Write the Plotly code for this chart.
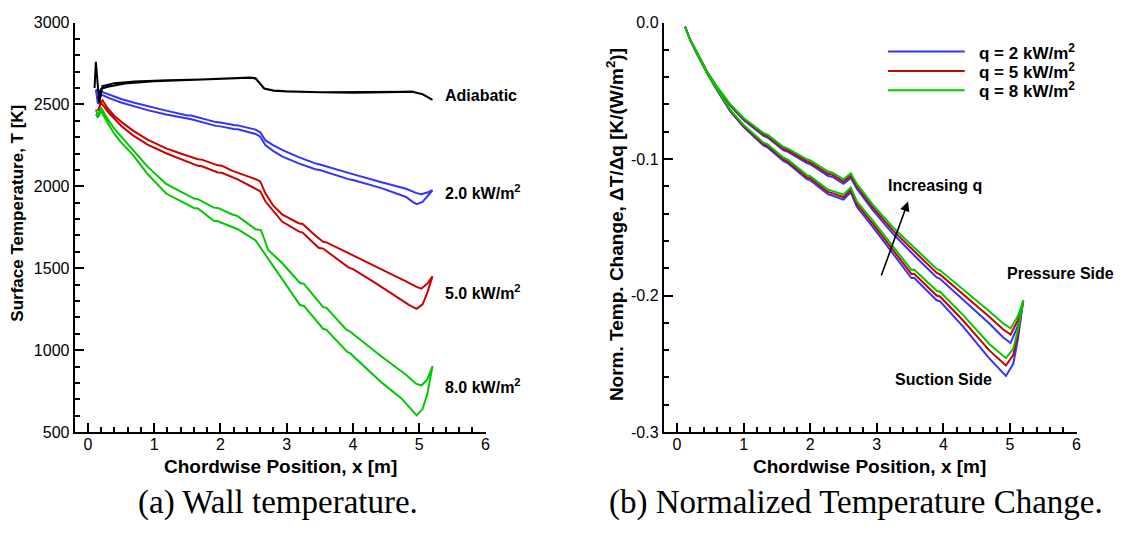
import plotly.graph_objects as go

# ---------------- data : panel (a) wall temperature ----------------
# Adiabatic
adi_low_x = [0.15, 0.2, 0.3, 0.45, 0.6, 1.0, 1.2, 1.7, 2.2, 2.45, 2.53, 2.6, 2.66, 2.8, 3.0, 3.5, 4.0, 4.5, 4.9, 5.05, 5.2]
adi_low_T = [2540, 2595, 2608, 2620, 2630, 2642, 2645, 2650, 2658, 2663, 2658, 2622, 2596, 2583, 2579, 2574, 2572, 2575, 2577, 2562, 2528]
adi_up_x = [0.10, 0.12, 0.15, 0.17, 0.22, 0.4, 0.7, 1.2, 1.7, 2.2, 2.45, 2.53, 2.6, 2.66, 2.8, 3.0, 3.5, 4.0, 4.5, 4.9, 5.05, 5.2]
adi_up_T = [2600, 2760, 2600, 2510, 2612, 2630, 2640, 2647, 2652, 2660, 2665, 2660, 2625, 2598, 2585, 2580, 2575, 2573, 2576, 2578, 2563, 2528]

# q = 2.0 kW/m2
q2_low_x = [0.12, 0.15, 0.2, 0.33, 0.5, 0.7, 0.9, 1.18, 1.5, 1.56, 1.93, 2.0, 2.2, 2.26, 2.53, 2.6, 2.68, 2.8,
            2.93, 3.18, 3.43, 3.5, 3.93, 4.0, 4.43, 4.8, 4.9, 4.96, 5.05, 5.12, 5.2]
q2_low_T = [2590, 2505, 2560, 2537, 2512, 2488, 2465, 2439, 2410, 2409, 2369, 2366, 2350, 2348, 2320, 2303, 2251, 2215,
            2183, 2140, 2104, 2100, 2044, 2039, 1989, 1935, 1905, 1891, 1905, 1940, 1976]
q2_up_x = [0.12, 0.2, 0.33, 0.5, 0.7, 0.9, 1.18, 1.5, 1.56, 1.93, 2.0, 2.2, 2.26, 2.53, 2.6, 2.68, 2.8, 2.93, 3.18,
           3.43, 3.5, 3.93, 4.0, 4.43, 4.8, 4.95, 5.03, 5.12, 5.2]
q2_up_T = [2590, 2580, 2557, 2533, 2510, 2488, 2462, 2433, 2432, 2392, 2389, 2374, 2372, 2346, 2330, 2280, 2250, 2222, 2178,
           2140, 2133, 2082, 2078, 2025, 1985, 1960, 1952, 1962, 1976]

# q = 5.0 kW/m2
q5_low_x = [0.15, 0.2, 0.3, 0.4, 0.5, 0.68, 0.9, 1.18, 1.4, 1.66, 1.72, 1.96, 2.02, 2.18, 2.26, 2.53, 2.6, 2.68, 2.8,
            2.93, 3.18, 3.24, 3.48, 3.55, 3.93, 4.0, 4.3, 4.68, 4.85, 4.96, 5.05, 5.12, 5.2]
q5_low_T = [2460, 2510, 2455, 2410, 2370, 2311, 2255, 2202, 2165, 2125, 2122, 2085, 2083, 2054, 2043, 1985, 1970, 1907, 1845,
            1785, 1725, 1718, 1625, 1620, 1505, 1495, 1420, 1316, 1275, 1252, 1280, 1350, 1450]
q5_up_x = [0.16, 0.22, 0.3, 0.4, 0.5, 0.68, 0.9, 1.18, 1.4, 1.66, 1.72, 1.96, 2.02, 2.18, 2.26, 2.53, 2.6, 2.68, 2.8,
           2.93, 3.18, 3.24, 3.43, 3.55, 3.6, 3.83, 3.9, 4.43, 4.8, 4.95, 5.03, 5.12, 5.2]
q5_up_T = [2500, 2525, 2475, 2430, 2395, 2340, 2285, 2232, 2200, 2165, 2163, 2128, 2126, 2094, 2085, 2044, 2030, 1956, 1880,
           1829, 1775, 1770, 1700, 1662, 1658, 1611, 1598, 1493, 1420, 1388, 1375, 1405, 1450]

# q = 8.0 kW/m2
q8_low_x = [0.12, 0.15, 0.2, 0.3, 0.4, 0.5, 0.68, 0.9, 1.18, 1.4, 1.6, 1.66, 1.9, 1.96, 2.18, 2.26, 2.53, 2.63, 2.8,
            2.93, 3.2, 3.26, 3.55, 3.6, 3.91, 3.96, 4.43, 4.73, 4.88, 4.96, 5.05, 5.12, 5.2]
q8_low_T = [2440, 2420, 2460, 2385, 2320, 2268, 2192, 2075, 1956, 1912, 1868, 1865, 1790, 1787, 1749, 1738, 1670, 1611, 1510,
            1434, 1275, 1270, 1130, 1124, 990, 980, 803, 705, 640, 602, 640, 730, 902]
q8_up_x = [0.12, 0.15, 0.2, 0.3, 0.4, 0.5, 0.68, 0.9, 1.18, 1.4, 1.6, 1.66, 1.9, 1.96, 2.18, 2.26, 2.53, 2.61, 2.66,
           2.72, 2.93, 3.2, 3.26, 3.55, 3.6, 3.9, 3.95, 4.43, 4.8, 4.95, 5.03, 5.12, 5.2]
q8_up_T = [2470, 2430, 2480, 2410, 2350, 2300, 2222, 2120, 2015, 1968, 1925, 1922, 1870, 1868, 1828, 1818, 1738, 1733, 1680,
           1611, 1532, 1410, 1405, 1262, 1258, 1125, 1115, 961, 850, 795, 784, 820, 902]

# ---------------- data : panel (b) normalized temperature change ----------------
suc_x = [0.12, 0.2, 0.3, 0.45, 0.6, 0.8, 1.0, 1.3, 1.36, 1.6, 1.66, 1.95, 2.0, 2.27, 2.33, 2.5, 2.61, 2.7,
         2.94, 3.24, 3.52, 3.56, 3.9, 3.95, 4.3, 4.69, 4.85, 4.94, 5.05, 5.12, 5.2]
suc_q8 = [-0.003, -0.013, -0.023, -0.037, -0.049, -0.064, -0.075, -0.0880, -0.0893, -0.0990, -0.1003, -0.1118,
          -0.1126, -0.1225, -0.1233, -0.1262, -0.1208, -0.1310, -0.1452, -0.1640, -0.1812, -0.1810, -0.1965,
          -0.1972, -0.2145, -0.2355, -0.2425, -0.2459, -0.2390, -0.2250, -0.2038]
suc_q5 = [-0.003, -0.013, -0.023, -0.037, -0.0493, -0.0646, -0.0758, -0.0891, -0.0904, -0.1003, -0.1016, -0.1133,
          -0.1141, -0.1242, -0.1250, -0.1280, -0.1226, -0.1330, -0.1474, -0.1666, -0.1842, -0.1840, -0.2000,
          -0.2007, -0.2185, -0.2402, -0.2477, -0.2513, -0.2435, -0.2280, -0.2038]
suc_q2 = [-0.003, -0.013, -0.023, -0.037, -0.0496, -0.0652, -0.0766, -0.0902, -0.0915, -0.1016, -0.1029, -0.1148,
          -0.1156, -0.1259, -0.1267, -0.1298, -0.1244, -0.1350, -0.1497, -0.1692, -0.1872, -0.1870, -0.2035,
          -0.2043, -0.2230, -0.2460, -0.2545, -0.2589, -0.2500, -0.2320, -0.2038]

pre_x = [0.12, 0.2, 0.3, 0.45, 0.6, 0.8, 1.0, 1.3, 1.36, 1.6, 1.66, 1.95, 2.0, 2.27, 2.33, 2.5, 2.61, 2.7,
         2.94, 3.24, 3.59, 3.9, 3.95, 4.3, 4.69, 4.9, 5.01, 5.12, 5.2]
pre_q8 = [-0.003, -0.013, -0.022, -0.036, -0.047, -0.060, -0.070, -0.0810, -0.0822, -0.0912, -0.0922, -0.1002,
          -0.1010, -0.1092, -0.1098, -0.1148, -0.1104, -0.1182, -0.1334, -0.1500, -0.1665, -0.1805, -0.1815,
          -0.1960, -0.2115, -0.2205, -0.2241, -0.2150, -0.2038]
pre_q5 = [-0.003, -0.013, -0.022, -0.036, -0.0473, -0.0605, -0.0707, -0.0820, -0.0832, -0.0924, -0.0934, -0.1016,
          -0.1024, -0.1108, -0.1114, -0.1165, -0.1121, -0.1200, -0.1354, -0.1523, -0.1692, -0.1835, -0.1845,
          -0.1995, -0.2155, -0.2249, -0.2286, -0.2180, -0.2038]
pre_q2 = [-0.003, -0.013, -0.022, -0.036, -0.0476, -0.0610, -0.0714, -0.0830, -0.0842, -0.0936, -0.0946, -0.1030,
          -0.1038, -0.1124, -0.1130, -0.1182, -0.1138, -0.1218, -0.1374, -0.1546, -0.1720, -0.1867, -0.1878,
          -0.2035, -0.2205, -0.2307, -0.2348, -0.2220, -0.2038]

x_ticks = [0, 1, 2, 3, 4, 5, 6]
T_ticks = [500, 1000, 1500, 2000, 2500, 3000]
dT_ticks = [0.0, -0.1, -0.2, -0.3]
dT_labels = ["0.0", "-0.1", "-0.2", "-0.3"]

# ---------------- styling ----------------
BLUE = "#3333ff"
RED = "#cc0000"
GREEN = "#00c800"
BLACK = "#000000"
SANS = "Liberation Sans, Arial, Helvetica, sans-serif"
SERIF = "Liberation Serif, Times New Roman, serif"
W, H = 1127, 533

fig = go.Figure()


def loop(lx, ly, ux, uy):
    return list(lx) + list(ux)[::-1], list(ly) + list(uy)[::-1]


def add_line(x, y, color, xa, ya, name):
    fig.add_trace(go.Scatter(x=x, y=y, mode="lines", name=name, showlegend=False,
                             line=dict(color=color, width=2), xaxis=xa, yaxis=ya,
                             hoverinfo="skip"))


# panel (a)
for lx, ly, ux, uy, c, n in [
    (q8_low_x, q8_low_T, q8_up_x, q8_up_T, GREEN, "8.0 kW/m2"),
    (q5_low_x, q5_low_T, q5_up_x, q5_up_T, RED, "5.0 kW/m2"),
    (q2_low_x, q2_low_T, q2_up_x, q2_up_T, BLUE, "2.0 kW/m2"),
    (adi_low_x, adi_low_T, adi_up_x, adi_up_T, BLACK, "Adiabatic"),
]:
    x, y = loop(lx, ly, ux, uy)
    add_line(x, y, c, "x", "y", n)

# panel (b)
for s, p, c, n in [
    (suc_q2, pre_q2, BLUE, "q = 2 kW/m2"),
    (suc_q5, pre_q5, RED, "q = 5 kW/m2"),
    (suc_q8, pre_q8, GREEN, "q = 8 kW/m2"),
]:
    x, y = loop(suc_x, s, pre_x, p)
    add_line(x, y, c, "x2", "y2", n)

plot_top, plot_bot = 15, 438
ydom = [1 - plot_bot / H, 1 - plot_top / H]
ax_common = dict(showline=True, linecolor="black", linewidth=2, mirror=False, showgrid=False,
                 zeroline=False, ticks="inside", tickwidth=2, tickcolor="black",
                 tickfont=dict(family=SANS, size=16, color="black"))

fig.update_layout(
    width=W, height=H, margin=dict(l=0, r=0, t=0, b=0),
    paper_bgcolor="white", plot_bgcolor="white", showlegend=False,
    xaxis=dict(domain=[75 / W, 487.7 / W], range=[-0.2, 6], tickvals=x_ticks, ticklen=9, anchor="y",
               ticklabelstandoff=-3,
               minor=dict(dtick=0.2, tick0=0, ticks="inside", ticklen=5, tickwidth=1.5, tickcolor="black"),
               **ax_common),
    yaxis=dict(domain=ydom, range=[500, 3000], tickvals=T_ticks, ticklen=9, anchor="x",
               minor=dict(dtick=100, tick0=0, ticks="inside", ticklen=5, tickwidth=1.5, tickcolor="black"),
               **ax_common),
    xaxis2=dict(domain=[666.7 / W, 1081.3 / W], range=[-0.2, 6], tickvals=x_ticks, ticklen=9, anchor="y2",
                ticklabelstandoff=-3,
                minor=dict(dtick=0.2, tick0=0, ticks="inside", ticklen=5, tickwidth=1.5, tickcolor="black"),
                **ax_common),
    yaxis2=dict(domain=ydom, range=[-0.3, 0.0], tickvals=dT_ticks, ticktext=dT_labels, ticklen=9, anchor="x2",
                minor=dict(dtick=0.02, tick0=0, ticks="inside", ticklen=5, tickwidth=1.5, tickcolor="black"),
                **ax_common),
)

ann = []
# axis titles
for xc in (281.5, 873.5):
    ann.append(dict(text="<b>Chordwise Position, x [m]</b>", x=xc / W, y=1 - 474 / H, xref="paper", yref="paper",
                    showarrow=False, xanchor="center", yanchor="middle",
                    font=dict(family=SANS, size=19, color="black")))
ann.append(dict(text="<b>Surface Temperature, T [K]</b>", x=18 / W, y=1 - 211.5 / H, xref="paper", yref="paper",
                showarrow=False, xanchor="center", yanchor="middle", textangle=-90,
                font=dict(family=SANS, size=17, color="black")))
ann.append(dict(text="<b>Norm. Temp. Change, ΔT/Δq [K/(W/m<sup>2</sup>)]</b>", x=618 / W, y=1 - 224 / H,
                xref="paper", yref="paper", showarrow=False, xanchor="center", yanchor="middle", textangle=-90,
                font=dict(family=SANS, size=19, color="black")))

# captions
ann.append(dict(text="(a) Wall temperature.", x=279 / W, y=1 - 511 / H, xref="paper", yref="paper",
                showarrow=False, xanchor="center", yanchor="middle", font=dict(family=SERIF, size=33, color="black")))
ann.append(dict(text="(b) Normalized Temperature Change.", x=860 / W, y=1 - 511 / H, xref="paper", yref="paper",
                showarrow=False, xanchor="center", yanchor="middle", font=dict(family=SERIF, size=33, color="black")))

# panel (a) curve labels
lab_font = dict(family=SANS, size=16, color="black")
for txt, yv in [("<b>Adiabatic</b>", 2557), ("<b>2.0 kW/m<sup>2</sup></b>", 1966),
                ("<b>5.0 kW/m<sup>2</sup></b>", 1357), ("<b>8.0 kW/m<sup>2</sup></b>", 784)]:
    ann.append(dict(text=txt, x=5.36, y=yv, xref="x", yref="y", showarrow=False, xanchor="left",
                    yanchor="middle", font=lab_font))

# panel (b) labels
ann.append(dict(text="<b>Increasing q</b>", x=3.14, y=-0.1191, xref="x2", yref="y2", showarrow=False,
                xanchor="left", yanchor="middle", font=lab_font))
ann.append(dict(text="<b>Pressure Side</b>", x=4.92, y=-0.1837, xref="x2", yref="y2", showarrow=False,
                xanchor="left", yanchor="middle", font=lab_font))
ann.append(dict(text="<b>Suction Side</b>", x=3.24, y=-0.2617, xref="x2", yref="y2", showarrow=False,
                xanchor="left", yanchor="middle", font=lab_font))
ann.append(dict(text="", x=3.47, y=-0.1312, ax=3.06, ay=-0.1865, xref="x2", yref="y2", axref="x2", ayref="y2",
                showarrow=True, arrowhead=2, arrowsize=1.2, arrowwidth=1.6, arrowcolor="black"))

# legend (panel b)
shapes = []
leg_font = dict(family=SANS, size=17, color="black")
for i, (c, txt) in enumerate([(BLUE, "q = 2 kW/m<sup>2</sup>"), (RED, "q = 5 kW/m<sup>2</sup>"),
                              (GREEN, "q = 8 kW/m<sup>2</sup>")]):
    yp = 1 - (45 + 20 * i) / H
    shapes.append(dict(type="line", xref="paper", yref="paper", x0=892 / W, x1=969 / W, y0=yp, y1=yp,
                       line=dict(color=c, width=2)))
    ann.append(dict(text="<b>" + txt + "</b>", x=981 / W, y=yp, xref="paper", yref="paper", showarrow=False,
                    xanchor="left", yanchor="middle", font=leg_font))

fig.update_layout(annotations=ann, shapes=shapes)
fig.write_html("out.html")
